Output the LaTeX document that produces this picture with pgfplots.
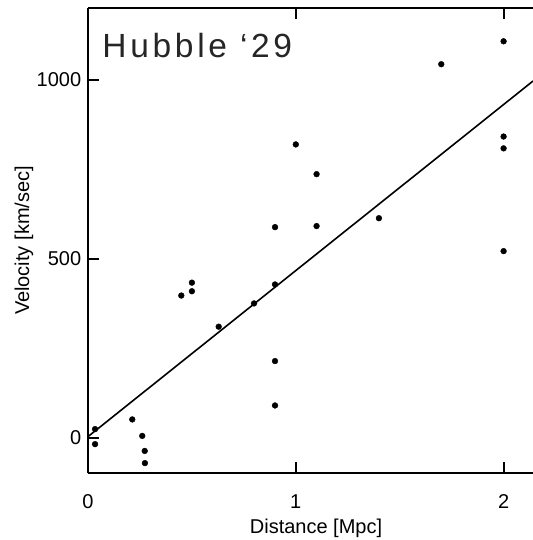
\documentclass[border=0pt]{standalone}
\usepackage{fontspec}
\setmainfont{Liberation Sans}
\usepackage{pgfplots}
\pgfplotsset{compat=1.18}

\begin{document}
\fontsize{20bp}{24bp}\selectfont
\begin{tikzpicture}
\path[use as bounding box] (0,0) rectangle (533bp,540bp);
\begin{axis}[
  at={(88bp,67bp)}, anchor=south west,
  scale only axis, width=445bp, height=465bp,
  xmin=0, xmax=2.1415, ymin=-98.6, ymax=1200,
  axis x line*=box, axis y line*=left,
  axis line style={line width=1.8bp, -},
  x axis line style={-}, y axis line style={-},
  tick align=inside, major tick length=11bp,
  tick style={line width=1.8bp, black},
  xtick={0,1,2}, ytick={0,500,1000},
  minor tick num=0,
  /pgf/number format/assume math mode=true,
  /pgf/number format/1000 sep={},
  tick label style={font=\fontsize{20bp}{24bp}\selectfont},
  xticklabel style={yshift=-15bp},
  label style={font=\fontsize{20bp}{24bp}\selectfont},
  every axis x label/.style={at={([yshift=-55bp]rel axis cs:0.5124,0)}, anchor=center},
  every axis y label/.style={at={([xshift=-64bp]rel axis cs:0,0.5)}, rotate=90, anchor=center},
  xlabel={Distance [Mpc]},
  ylabel={Velocity [km/sec]},
]
\addplot[black, line width=1.6bp] coordinates {(0,3) (2.1415,996)};
\addplot[only marks, mark=*, mark size=2.9bp, mark options={fill=black, draw=black, line width=0.4bp}] coordinates {
(0.034,24) (0.034,-18) (0.213,51) (0.261,5) (0.273,-37) (0.274,-71)
(0.449,397) (0.5,433) (0.5,409) (0.629,310) (0.799,375)
(0.9,428) (0.9,588) (0.9,214) (0.9,90) (1.0,819) (1.1,736) (1.1,591)
(1.4,613) (1.7,1043) (2.0,1107) (2.0,841) (2.0,808) (2.0,521)
};
\node[anchor=base west, inner sep=0pt, text=black!85, font=\fontsize{33.5bp}{40bp}\selectfont\addfontfeature{LetterSpace=11}] at ([xshift=14.3bp, yshift=-49.3bp]rel axis cs:0,1) {Hubble ‘29};
\end{axis}
\end{tikzpicture}
\end{document}
